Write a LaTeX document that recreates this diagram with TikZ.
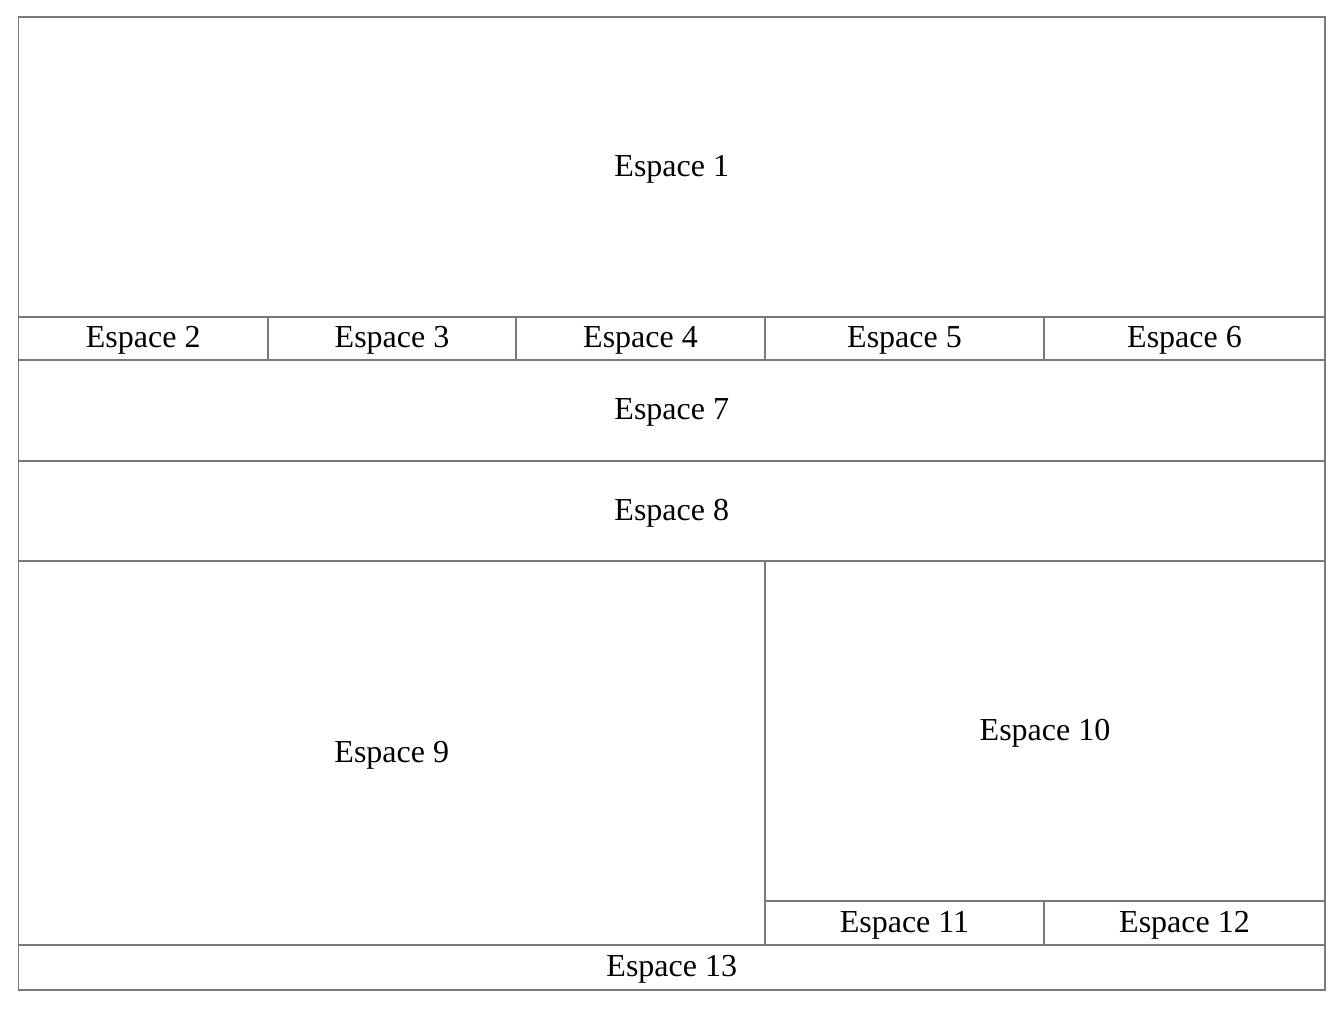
\documentclass[tikz,border=0pt]{standalone}
\usepackage{fontspec}
\setmainfont{Liberation Serif}
\definecolor{cellgray}{HTML}{7A7A7A}

\begin{document}
\begin{tikzpicture}[x=0.5pt,y=-0.5pt,
    cellline/.style={draw=cellgray,line width=0.65pt},
    celltext/.style={inner sep=0pt,yshift=-1pt,font=\fontsize{16}{19}\selectfont}]

    \useasboundingbox (0,0) rectangle (1342,1010);

    \foreach \n/\xa/\ya/\xb/\yb/\t in {
        e1/18.5/17/1325/317/Espace 1,
        e2/18.5/317/268/360/Espace 2,
        e3/268/317/516/360/Espace 3,
        e4/516/317/765/360/Espace 4,
        e5/765/317/1044/360/Espace 5,
        e6/1044/317/1325/360/Espace 6,
        e7/18.5/360/1325/461/Espace 7,
        e8/18.5/461/1325/561/Espace 8,
        e9/18.5/561/765/945/Espace 9,
        e10/765/561/1325/901/Espace 10,
        e11/765/901/1044/945/Espace 11,
        e12/1044/901/1325/945/Espace 12,
        e13/18.5/945/1325/990/Espace 13}
    {
        \draw[cellline] (\xa,\ya) rectangle (\xb,\yb);
        \node[celltext] (\n) at ({(\xa+\xb)/2},{(\ya+\yb)/2}) {\t};
    }

\end{tikzpicture}
\end{document}
